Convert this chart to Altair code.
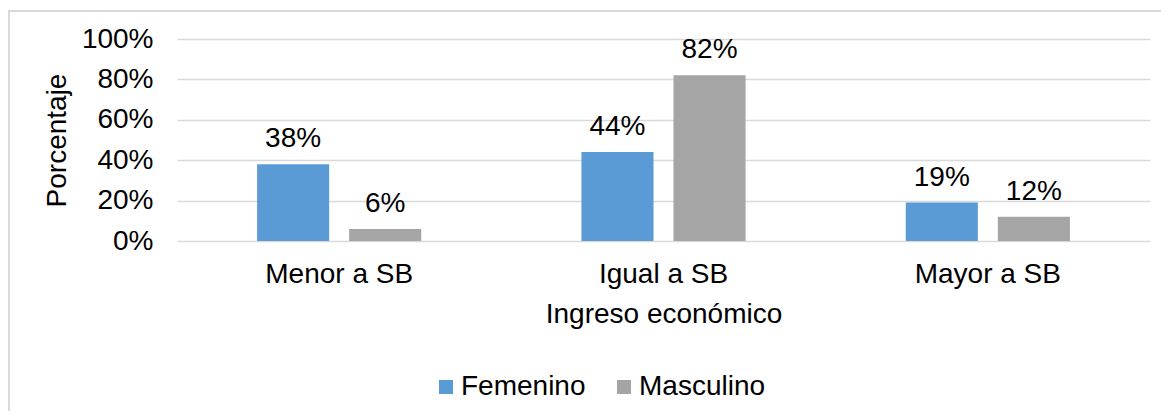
import altair as alt
import pandas as pd

categories = ["Menor a SB", "Igual a SB", "Mayor a SB"]
series = ["Femenino", "Masculino"]
femenino = [38, 44, 19]
masculino = [6, 82, 12]
colors = ["#5B9BD5", "#A5A5A5"]

rows = []
for c, f, m in zip(categories, femenino, masculino):
    rows.append({"cat": c, "sexo": "Femenino", "v": f})
    rows.append({"cat": c, "sexo": "Masculino", "v": m})
df = pd.DataFrame(rows)

FONT = "Liberation Sans"
FS = 28

x = alt.X("cat:N", sort=categories,
          scale=alt.Scale(paddingInner=0, paddingOuter=0),
          axis=alt.Axis(title="Ingreso económico", labelAngle=0, domain=False,
                        ticks=False, grid=False, labelPadding=19, titlePadding=12))
xo = alt.XOffset("sexo:N", sort=series,
                 scale=alt.Scale(paddingInner=0.217, paddingOuter=0.87))
y = alt.Y("v:Q", scale=alt.Scale(domain=[0, 100]),
          axis=alt.Axis(title="Porcentaje", values=[0, 20, 40, 60, 80, 100],
                        labelExpr="datum.value + '%'", domain=False, ticks=False,
                        grid=True, labelPadding=24, titlePadding=10))

bars = alt.Chart(df).mark_bar().encode(
    x=x, xOffset=xo, y=y,
    color=alt.Color("sexo:N", sort=series,
                    scale=alt.Scale(domain=series, range=colors),
                    legend=alt.Legend(title=None, orient="none", legendX=255, legendY=334,
                                      direction="horizontal", symbolType="square",
                                      symbolSize=196, symbolStrokeWidth=0,
                                      labelFontSize=FS, labelFont=FONT, labelColor="#000",
                                      columnPadding=24, labelOffset=1, labelLimit=300)),
)

text = alt.Chart(df).mark_text(dy=-17, baseline="alphabetic", fontSize=FS, font=FONT,
                               color="#000").encode(
    x=alt.X("cat:N", sort=categories), xOffset=alt.XOffset("sexo:N", sort=series), y="v:Q",
    text=alt.Text("label:N"),
).transform_calculate(label="datum.v + '%'")

border = alt.Chart(pd.DataFrame({"a": [0]})).mark_rect(
    fill=None, stroke="#d9d9d9", strokeWidth=2
).encode(x=alt.value(-168), x2=alt.value(1100), y=alt.value(-28), y2=alt.value(400))

chart = alt.layer(border, bars, text).properties(
    width=973, height=202,
    padding={"left": 169, "top": 31, "right": 11, "bottom": 170},
    autosize=alt.AutoSizeParams(type="none"),
).configure_view(stroke=None).configure_axis(
    labelFont=FONT, titleFont=FONT, labelFontSize=FS, titleFontSize=FS,
    titleFontWeight="normal", labelColor="#000", titleColor="#000",
    gridColor="#d9d9d9", gridWidth=1.3,
)

chart.save("out.html", embed_options={"renderer": "svg", "actions": False})
